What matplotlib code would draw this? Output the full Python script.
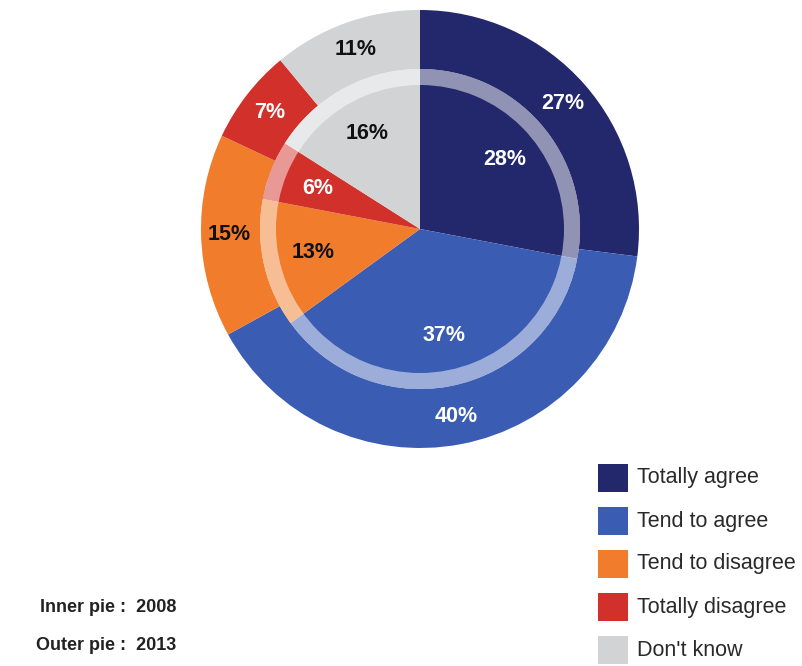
import matplotlib
matplotlib.use('Agg')
import matplotlib.pyplot as plt
from matplotlib.patches import Rectangle, Wedge

plt.rcParams['font.family'] = ['Liberation Sans Narrow', 'Liberation Sans', 'DejaVu Sans']

# Survey answers, 2008 (inner pie) and 2013 (outer pie)
categories = ['Totally agree', 'Tend to agree', 'Tend to disagree', 'Totally disagree', "Don't know"]
inner_2008 = [28, 37, 13, 6, 16]
outer_2013 = [27, 40, 15, 7, 11]
colors = ['#23276b', '#3b5cb3', '#f07c2c', '#d2312b', '#d2d3d5']
label_colors = ['white', 'white', '#111111', 'white', '#111111']

W, H = 803, 666
fig = plt.figure(figsize=(W / 100, H / 100), dpi=100)

# pie centre and outer radius in pixels
cx, cy, R = 420, 229, 219
ax = fig.add_axes([(cx - R) / W, (H - cy - R) / H, 2 * R / W, 2 * R / H])
ax.set_xlim(-1, 1)
ax.set_ylim(-1, 1)
ax.set_aspect('equal')
ax.axis('off')

r_inner = 160 / R
ring_in = 144 / R

# outer ring: 2013
_, _, outer_txt = ax.pie(outer_2013, colors=colors, radius=1.0, startangle=90,
                         counterclock=False, autopct='%.0f%%', pctdistance=0.87,
                         wedgeprops=dict(width=1.0 - r_inner, linewidth=0))
# inner pie: 2008
_, _, inner_txt = ax.pie(inner_2008, colors=colors, radius=r_inner, startangle=90,
                         counterclock=False, autopct='%.0f%%', pctdistance=0.50 / r_inner,
                         wedgeprops=dict(linewidth=0))

for txts in (outer_txt, inner_txt):
    for t, c in zip(txts, label_colors):
        t.set_color(c)
        t.set_fontsize(15.5)
        t.set_fontweight('bold')

# translucent band on the edge of the inner pie
ax.add_patch(Wedge((0, 0), r_inner, 0, 360, width=r_inner - ring_in,
                   facecolor='white', alpha=0.5, linewidth=0))
ax.set_xlim(-1, 1)
ax.set_ylim(-1, 1)

# legend, drawn by hand down the lower right corner
for i, (name, col) in enumerate(zip(categories, colors)):
    yc = 478 + i * 43
    fig.patches.append(Rectangle((598 / W, (H - yc - 14) / H), 30 / W, 28 / H,
                                 transform=fig.transFigure, facecolor=col,
                                 edgecolor='none'))
    fig.text(637 / W, (H - yc) / H, name, fontsize=15.5, color='#2a2a2a',
             ha='left', va='center')

fig.text(176 / W, (H - 608) / H, 'Inner pie :  2008', fontsize=13, fontweight='bold',
         color='#222222', ha='right', va='center')
fig.text(176 / W, (H - 646) / H, 'Outer pie :  2013', fontsize=13, fontweight='bold',
         color='#222222', ha='right', va='center')

fig.savefig('out.png', dpi=100)
